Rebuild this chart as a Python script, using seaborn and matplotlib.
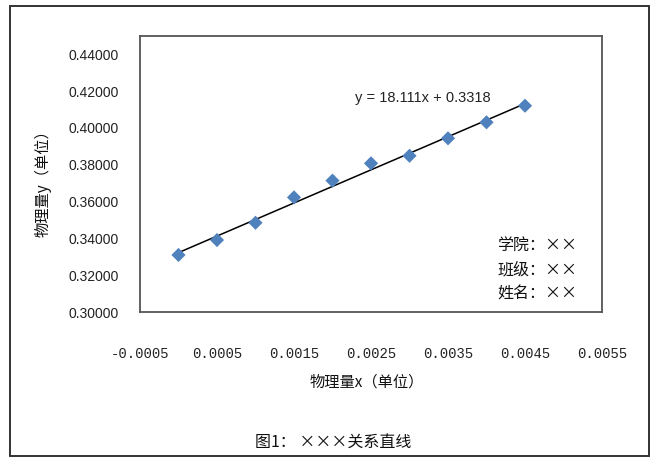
import numpy as np
import pandas as pd
import matplotlib
matplotlib.use('Agg')
import matplotlib.pyplot as plt
import seaborn as sns
from matplotlib.patches import Rectangle

# data
x_vals = [0.0, 0.0005, 0.0010, 0.0015, 0.0020, 0.0025, 0.0030, 0.0035, 0.0040, 0.0045]
y_vals = [0.3310, 0.3391, 0.3485, 0.3623, 0.3714, 0.3808, 0.3849, 0.3944, 0.4031, 0.4121]
x_ticks = [-0.0005, 0.0005, 0.0015, 0.0025, 0.0035, 0.0045, 0.0055]
y_ticks = [0.30, 0.32, 0.34, 0.36, 0.38, 0.40, 0.42, 0.44]
fit_text = 'y = 18.111x + 0.3318'
info_lines = ['学院：××', '班级：××', '姓名：××']
x_label = '物理量x（单位）'
y_label = '物理量y（单位）'
caption = '图1： ×××关系直线'

df = pd.DataFrame({'x': x_vals, 'y': y_vals})

sns.set_style('white')
plt.rcParams['font.family'] = ['Noto Sans CJK SC', 'DejaVu Sans']

W, H = 651, 459
fig = plt.figure(figsize=(W / 100, H / 100), dpi=100)
ax = fig.add_axes([140 / W, 1 - 312 / H, 462 / W, 276 / H])

# trendline over data range
sns.regplot(data=df, x='x', y='y', ax=ax, scatter=False, ci=None, truncate=True,
            line_kws={'color': 'black', 'lw': 1.1})
sns.scatterplot(data=df, x='x', y='y', ax=ax, marker='D', s=52,
                color='#4F81BD', edgecolor='none', zorder=3)

ax.set_xlim(-0.0005, 0.0055)
ax.set_ylim(0.30, 0.45)
ax.set_xticks(x_ticks)
ax.set_yticks(y_ticks)
ax.set_xticklabels([f'{v:.4f}' for v in x_ticks], family='Liberation Mono', fontsize=10)
ax.set_yticklabels([f'{v:.5f}' for v in y_ticks], family='Liberation Sans', fontsize=10)
ax.tick_params(axis='x', length=0, pad=25, colors='#222222')
ax.tick_params(axis='y', length=0, pad=15, colors='#222222')
ax.set_xlabel('')
ax.set_ylabel('')
for s in ax.spines.values():
    s.set_color('#555555')
    s.set_linewidth(1.3)

ax.text(0.003175, 0.4163, fit_text, ha='center', va='center', fontsize=10.5,
        family='Liberation Sans', color='#222222')
for i, line in enumerate(info_lines):
    ax.text(0.773, 0.243 - i * 0.09, line, transform=ax.transAxes, ha='left',
            va='center', fontsize=11.5, fontweight='medium', color='#111111')

fig.text(367 / W, 1 - 382 / H, x_label, ha='center', va='center', fontsize=11,
         fontweight='medium', color='#111111')
fig.text(43 / W, 1 - 180 / H, y_label, ha='center', va='center', rotation=90,
         fontsize=11, fontweight='medium', color='#111111')
fig.text(333 / W, 1 - 442 / H, caption, ha='center', va='center', fontsize=11.5,
         fontweight='medium', color='#111111')

# outer frame
fig.patches.append(Rectangle((10 / W, 1 - 456 / H), 639 / W, 450 / H, transform=fig.transFigure,
                             fill=False, edgecolor='#333333', lw=1.4))

fig.savefig('out.png', dpi=100)
